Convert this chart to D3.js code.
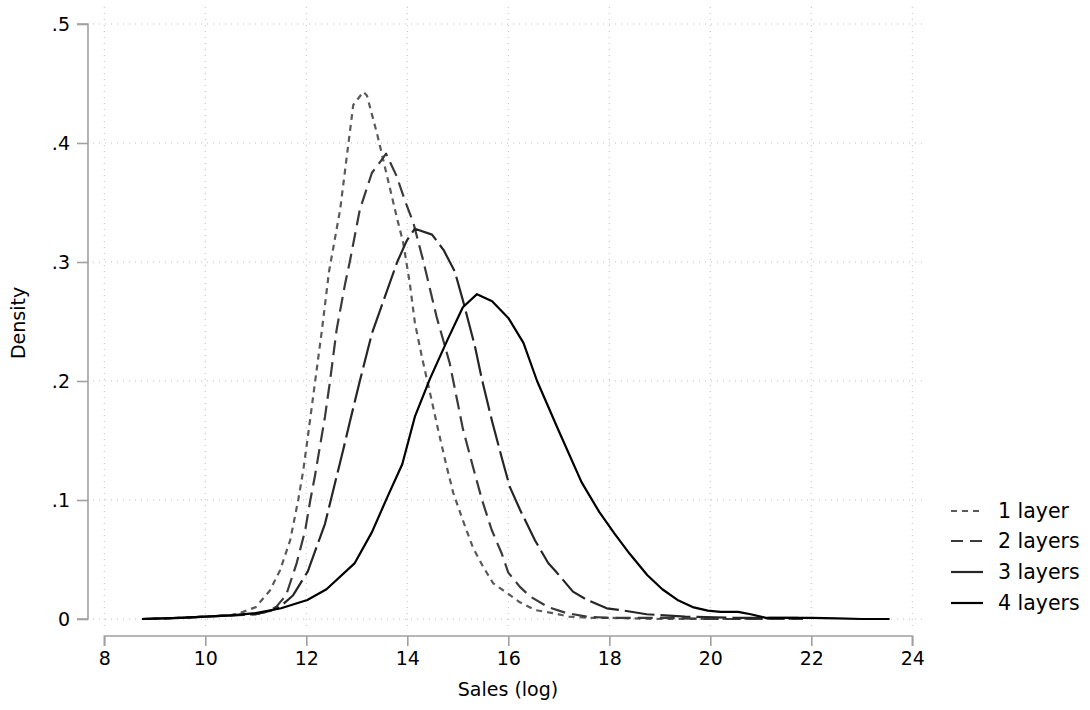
<!DOCTYPE html>
<html><head><meta charset="utf-8">
<script src="https://d3js.org/d3.v7.min.js"></script>
<style>body{margin:0;background:#fff}svg{display:block;font-family:"DejaVu Sans",sans-serif}</style>
</head><body><svg id="chart" width="1090" height="710"></svg>
<script>
const seriesNames = ["1 layer","2 layers","3 layers","4 layers"];
const xTicks = [8,10,12,14,16,18,20,22,24];
const yTicks = [0,0.1,0.2,0.3,0.4,0.5];
const yTickLabels = ["0",".1",".2",".3",".4",".5"];

const x1 = [8.75,9.5,10.0,10.5,10.75,11.0,11.28,11.48,11.68,11.84,11.94,12.03,12.17,12.31,12.45,12.67,12.8,12.93,13.13,13.2,13.4,13.6,13.79,13.92,14.05,14.15,14.29,14.45,14.61,14.78,14.91,15.1,15.3,15.5,15.7,15.97,16.23,16.53,16.88,17.2,17.6,18.0,19.0,20.0,21.0,21.83];
const d1 = [0,0.001,0.002,0.003,0.006,0.01,0.024,0.041,0.066,0.1,0.125,0.153,0.198,0.243,0.292,0.344,0.388,0.432,0.443,0.44,0.408,0.372,0.338,0.316,0.282,0.249,0.22,0.19,0.159,0.128,0.106,0.083,0.06,0.044,0.03,0.022,0.014,0.0075,0.005,0.002,0.001,0.001,0,0,0,0];

const x2 = [8.75,9.5,10.0,10.5,11.0,11.2,11.4,11.6,11.81,11.98,12.08,12.17,12.37,12.47,12.6,12.77,12.86,13.06,13.3,13.46,13.58,13.79,13.95,14.12,14.31,14.58,14.84,15.1,15.3,15.48,15.67,15.87,16.0,16.23,16.43,16.79,17.15,17.55,18.0,19.0,20.0,21.0,21.83];
const d2 = [0,0.001,0.002,0.003,0.004,0.006,0.01,0.02,0.047,0.075,0.1,0.12,0.17,0.2,0.243,0.282,0.3,0.344,0.375,0.384,0.391,0.372,0.352,0.333,0.302,0.254,0.215,0.16,0.128,0.1,0.075,0.055,0.039,0.027,0.019,0.01,0.005,0.002,0.001,0.001,0,0,0];

const x3 = [8.75,9.5,10.0,10.5,11.0,11.3,11.5,11.74,12.03,12.37,12.73,12.87,13.06,13.3,13.55,13.8,13.99,14.15,14.49,14.72,14.94,15.1,15.34,15.48,15.68,15.88,16.03,16.23,16.53,16.79,16.96,17.28,17.56,17.95,18.21,18.74,19.5,20.5,21.83];
const d3v = [0,0.001,0.002,0.003,0.004,0.007,0.011,0.02,0.04,0.08,0.142,0.167,0.2,0.24,0.27,0.3,0.318,0.328,0.323,0.31,0.292,0.268,0.229,0.201,0.166,0.134,0.111,0.092,0.066,0.047,0.039,0.023,0.016,0.009,0.0076,0.004,0.002,0.001,0.001];

const x4 = [8.75,9.5,10.0,10.5,11.0,11.5,12.02,12.4,12.96,13.3,13.6,13.9,14.15,14.45,14.8,15.1,15.38,15.68,16.0,16.3,16.57,17.0,17.45,17.8,18.1,18.4,18.75,19.05,19.35,19.65,19.95,20.2,20.55,20.8,21.1,21.5,22.0,22.5,23.0,23.55];
const d4 = [0,0.001,0.002,0.003,0.005,0.009,0.016,0.025,0.047,0.073,0.102,0.13,0.17,0.202,0.235,0.262,0.273,0.267,0.253,0.232,0.2,0.158,0.115,0.09,0.072,0.055,0.037,0.025,0.016,0.010,0.007,0.006,0.006,0.004,0.001,0.001,0.001,0.0005,0,0];

const svg = d3.select("#chart");
const x = d3.scaleLinear().domain([8,24]).range([104.3,912.3]);
const y = d3.scaleLinear().domain([0,0.5]).range([619,24]);
const FS = 19, LFS = 20.5;

// grid
const g = svg.append("g");
g.selectAll(".hg").data(yTicks).enter().append("line")
  .attr("x1",93).attr("x2",925).attr("y1",d=>y(d)).attr("y2",d=>y(d))
  .attr("stroke","#bdbdbd").attr("stroke-width",1).attr("stroke-dasharray","1,5");
g.selectAll(".vg").data(xTicks).enter().append("line")
  .attr("y1",7).attr("y2",630).attr("x1",d=>x(d)).attr("x2",d=>x(d))
  .attr("stroke","#bdbdbd").attr("stroke-width",1).attr("stroke-dasharray","1,5");

// axes
const yAxis = d3.axisLeft(y).tickValues(yTicks).tickFormat((d,i)=>yTickLabels[i]).tickSize(11).tickPadding(7);
const ya = svg.append("g").attr("transform","translate(88,0)").call(yAxis);
const xAxis = d3.axisBottom(x).tickValues(xTicks).tickFormat(d3.format("d")).tickSize(10).tickPadding(6);
const xa = svg.append("g").attr("transform","translate(0,636)").call(xAxis);
[ya,xa].forEach(a=>{
  a.attr("font-size",FS).attr("font-family","DejaVu Sans");
  a.select(".domain").attr("stroke","#a0a0a0").attr("stroke-width",1.6);
  a.selectAll(".tick line").attr("stroke","#a0a0a0").attr("stroke-width",1.6);
  a.selectAll("text").attr("font-size",FS).attr("fill","#000");
});
ya.select(".domain").attr("d","M-11,"+y(0.5)+"H0V"+y(0)+"H-11");
xa.select(".domain").attr("d","M"+x(8)+",10V0H"+x(24)+"V10");

// curves
const xsAll=[x1,x2,x3,x4], dsAll=[d1,d2,d3v,d4];
const colors=["#5a5a5a","#3a3a3a","#262626","#000000"];
const dashes=["6,5","15,7","30,6",null];
const line=d3.line().x(d=>x(d[0])).y(d=>y(d[1]));
xsAll.forEach((xs,i)=>{
  const pts=xs.map((v,j)=>[v,dsAll[i][j]]);
  svg.append("path").datum(pts).attr("d",line).attr("fill","none")
    .attr("stroke",colors[i]).attr("stroke-width",2.2)
    .attr("stroke-dasharray",dashes[i]).attr("stroke-linejoin","round");
});

// legend
const legY=[511,541,572,603];
seriesNames.forEach((n,i)=>{
  svg.append("line").attr("x1",951).attr("x2",983).attr("y1",legY[i]).attr("y2",legY[i])
    .attr("stroke",colors[i]).attr("stroke-width",2.2).attr("stroke-dasharray",i==0?"6,5":(i==1?"12,7":null));
  svg.append("text").attr("x",998).attr("y",legY[i]).attr("dy","0.35em")
    .attr("font-size",LFS).attr("font-family","DejaVu Sans").text(n);
});

// titles
svg.append("text").attr("x",508).attr("y",696).attr("text-anchor","middle").attr("font-size",FS).attr("font-family","DejaVu Sans").text("Sales (log)");
svg.append("text").attr("transform","translate(25,323) rotate(-90)").attr("text-anchor","middle").attr("font-size",FS).attr("font-family","DejaVu Sans").text("Density");
</script></body></html>
